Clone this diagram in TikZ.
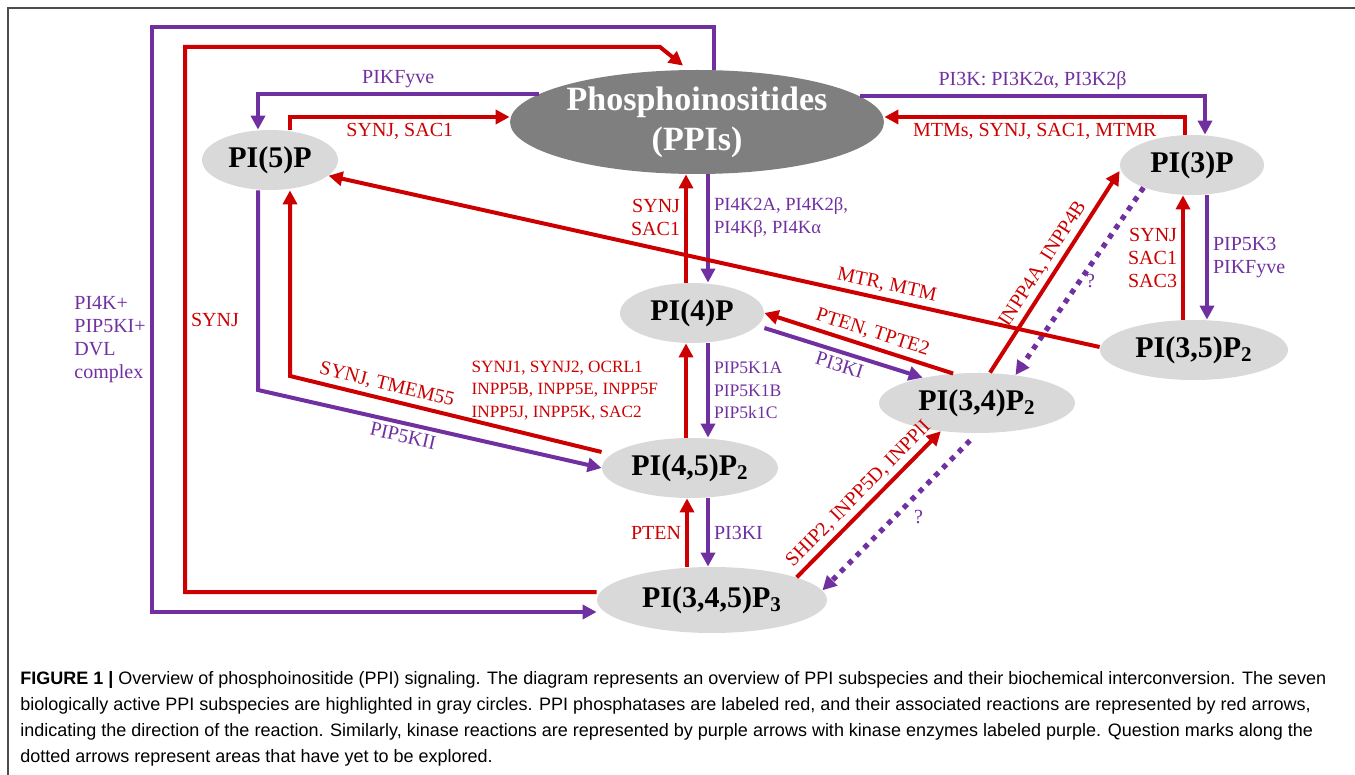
\documentclass[tikz,border=0pt]{standalone}
\usepackage{fontspec}
\setmainfont{Liberation Serif}
\newfontfamily\capfont{Liberation Sans}
\usetikzlibrary{calc,positioning,shapes.geometric,arrows.meta}
\definecolor{phosred}{HTML}{CC0000}
\definecolor{kinpurple}{HTML}{7030A0}
\definecolor{ppigray}{HTML}{D9D9D9}
\definecolor{ppidark}{HTML}{7F7F7F}

\begin{document}
\begin{tikzpicture}[x=0.5pt,y=-0.5pt,
	species/.style={ellipse, fill=ppigray, inner sep=0pt, minimum height=30pt, font=\rmfamily\bfseries\fontsize{15}{15}\selectfont},
	pase/.style={draw=phosred, line width=2pt, -{Triangle[length=7pt,width=7pt]}},
	kase/.style={draw=kinpurple, line width=2pt, -{Triangle[length=7pt,width=7pt]}},
	qkase/.style={kase, line width=2.6pt, dash pattern=on 2.6pt off 3pt},
	redtxt/.style={text=phosred, font=\rmfamily\fontsize{10}{11.5}\selectfont, inner sep=2pt},
	purtxt/.style={text=kinpurple, font=\rmfamily\fontsize{10}{11.5}\selectfont, inner sep=2pt}]

	\useasboundingbox (0,0) rectangle (1355,775);
	\draw[line width=0.7pt, black!70] (8,775) -- (8,8) -- (1355,8);

	\node[ellipse, fill=ppidark, minimum width=187pt, minimum height=52pt, inner sep=0pt, text=white, align=center, font=\rmfamily\bfseries\fontsize{17}{20}\selectfont] (ppi) at (697,122) {Phosphoinositides\\(PPIs)};
	\node[species, minimum width=68pt] (p5) at (270,160) {PI(5)P};
	\node[species, minimum width=72pt] (p3) at (1192,165) {PI(3)P};
	\node[species, minimum width=72pt] (p4) at (692,313) {PI(4)P};
	\node[species, minimum width=94pt] (p35) at (1194,350) {PI(3,5)P\textsubscript{2}};
	\node[species, minimum width=98pt] (p34) at (977,403) {PI(3,4)P\textsubscript{2}};
	\node[species, minimum width=88pt] (p45) at (690,468) {PI(4,5)P\textsubscript{2}};
	\node[species, minimum width=115pt, minimum height=33pt] (p345) at (712,600) {PI(3,4,5)P\textsubscript{3}};

	\draw[kase] ([xshift=8.5pt]ppi.north) |- (152,27) |- ([yshift=-6pt]p345.west);
	\node[purtxt, align=left, anchor=west] (dvl) at (70,340) {PI4K+\\PIP5KI+\\DVL\\complex};
	\draw[pase] ([yshift=4pt]p345.west) -| node[pos=0.75, right, redtxt] {SYNJ} (185,47) -- (660,47) -- ([shift={(-7pt,2pt)}]ppi.north);

	\draw[kase] (ppi.170) -| node[pos=0.25, above, purtxt] {PIKFyve} ([xshift=-6pt]p5.north);
	\draw[pase] ([xshift=10pt]p5.north) |- node[pos=0.75, below, redtxt] {SYNJ, SAC1} ([yshift=2.5pt]ppi.west);
	\draw[kase] (ppi.9) -| node[pos=0.25, above, purtxt] {PI3K: PI3K2α, PI3K2β} ([xshift=6.5pt]p3.north);
	\draw[pase] ([xshift=-3.5pt]p3.north) |- node[pos=0.75, below, redtxt] {MTMs, SYNJ, SAC1, MTMR} ([yshift=2.5pt]ppi.east);

	\draw[pase] ([xshift=-3pt]p4.north) -- node[pos=0.6, left, redtxt, align=right] {SYNJ\\SAC1} ([xshift=-3pt]p4.north |- ppi.south);
	\draw[kase] ([xshift=5.5pt]ppi.south) -- node[pos=0.4, right, purtxt, align=left, font=\rmfamily\fontsize{9.3}{11.5}\selectfont] {PI4K2A, PI4K2β,\\PI4Kβ, PI4Kα} ([xshift=5.5pt]ppi.south |- p4.north);

	\draw[pase] (p34.129) -- node[pos=0.45, above, sloped, redtxt] {PTEN, TPTE2} (p4.east);
	\draw[kase] ([yshift=-7.5pt]p4.east) -- node[midway, below, sloped, purtxt] {PI3KI} (p34.155);

	\draw[pase] ([xshift=-3pt]p4.south |- p45.north) -- node[midway, left=11pt, redtxt, align=left, font=\rmfamily\fontsize{8.6}{11.25}\selectfont] {SYNJ1, SYNJ2, OCRL1\\INPP5B, INPP5E, INPP5F\\INPP5J, INPP5K, SAC2} ([xshift=-3pt]p4.south);
	\draw[kase] ([xshift=8pt]p4.south) -- node[midway, right, purtxt, align=left, font=\rmfamily\fontsize{8.8}{11.25}\selectfont] {PIP5K1A\\PIP5K1B\\PIP5k1C} ([xshift=8pt]p4.south |- p45.north);

	\draw[pase] ([yshift=8pt]p45.west) -- node[pos=0.7, above, sloped, redtxt] {SYNJ, TMEM55} (290,376) -- ([xshift=10pt]p5.south);
	\draw[kase] ([xshift=-6pt]p5.south) -- (258,390) -- node[pos=0.43, below, sloped, purtxt] {PIP5KII} (p45.west);

	\draw[pase] ([xshift=-1.5pt]p45.south |- p345.north) -- node[midway, left, redtxt] {PTEN} ([xshift=-1.5pt]p45.south);
	\draw[kase] ([xshift=9pt]p45.south) -- node[midway, right, purtxt] {PI3KI} ([xshift=9pt]p45.south |- p345.north);

	\draw[pase] (p345.15) -- node[midway, above, sloped, redtxt] {SHIP2, INPP5D, INPPlI} (p34.218);
	\draw[qkase, shorten <=5pt] (p34.south) -- node[pos=0.45, below right, purtxt] {?} (p345.5);

	\draw[pase] ([xshift=-4.5pt]p3.south |- p35.north) -- node[midway, left, redtxt, align=right] {SYNJ\\SAC1\\SAC3} ([xshift=-4.5pt]p3.south);
	\draw[kase] ([xshift=7.5pt]p3.south) -- node[midway, right, purtxt, align=left] {PIP5K3\\PIKFyve} ([xshift=7.5pt]p3.south |- p35.north);

	\draw[pase] ([xshift=6.5pt]p34.north) -- node[midway, above, sloped, redtxt] {INPP4A, INPP4B} ([yshift=-3pt]p3.west);
	\draw[qkase] (p3.205) -- node[midway, right, purtxt] {?} (p34.36);

	\draw[pase] ([yshift=1.5pt]p35.west) -- node[pos=0.28, above, sloped, redtxt] {MTR, MTM} (p5.-15);

	\node[anchor=north west, align=left, inner sep=0pt, font=\capfont\fontsize{9}{13}\selectfont] (caption) at (20,671) {\textbf{FIGURE 1 |} Overview of phosphoinositide (PPI) signaling. The diagram represents an overview of PPI subspecies and their biochemical interconversion. The seven\\biologically active PPI subspecies are highlighted in gray circles. PPI phosphatases are labeled red, and their associated reactions are represented by red arrows,\\indicating the direction of the reaction. Similarly, kinase reactions are represented by purple arrows with kinase enzymes labeled purple. Question marks along the\\dotted arrows represent areas that have yet to be explored.};
\end{tikzpicture}
\end{document}
